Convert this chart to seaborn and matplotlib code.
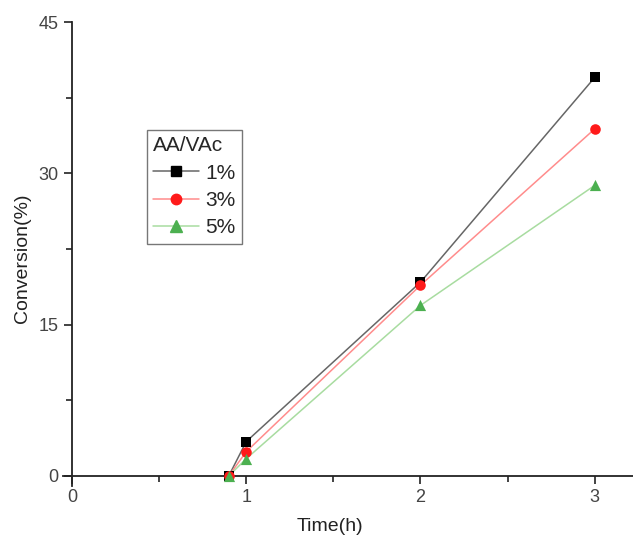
import matplotlib
matplotlib.use("Agg")
import matplotlib.pyplot as plt
from matplotlib.lines import Line2D
from matplotlib.ticker import MultipleLocator
import seaborn as sns
import pandas as pd

time_h = [0.9, 1, 2, 3]
conv_1 = [0.0, 3.4, 19.2, 39.5]
conv_3 = [0.0, 2.4, 18.9, 34.4]
conv_5 = [0.0, 1.7, 16.9, 28.8]
labels = ["1%", "3%", "5%"]
marker_colors = ["#000000", "#ff1a1a", "#4cb050"]
line_colors = ["#666666", "#ff8c8c", "#a8dca0"]
markers = ["s", "o", "^"]
msizes = [50, 58, 65]

sns.set_theme(style="ticks")
plt.rcParams['font.family'] = ['Liberation Sans', 'DejaVu Sans']

fig = plt.figure(figsize=(6.33, 5.41), dpi=100)
ax = fig.add_axes([0.1, 0.1017, 0.9, 0.8576])

df = pd.DataFrame({
    "Time": time_h * 3,
    "Conversion": conv_1 + conv_3 + conv_5,
    "AA/VAc": [labels[0]] * 4 + [labels[1]] * 4 + [labels[2]] * 4,
})

for i, lab in enumerate(labels):
    sub = df[df["AA/VAc"] == lab]
    sns.lineplot(data=sub, x="Time", y="Conversion", ax=ax, color=line_colors[i],
                 linewidth=1.1, legend=False, zorder=2, sort=False)
for i, lab in enumerate(labels):
    sub = df[df["AA/VAc"] == lab]
    sns.scatterplot(data=sub, x="Time", y="Conversion", ax=ax, color=marker_colors[i],
                    marker=markers[i], s=msizes[i], linewidth=0, legend=False, zorder=3)

ax.set_xlim(-0.05, 3.22)
ax.set_ylim(-1.0, 45)
ax.spines['left'].set_position(('data', 0))
ax.spines['bottom'].set_position(('data', 0))
ax.spines['right'].set_visible(False)
ax.spines['top'].set_visible(False)
for s in ['left', 'bottom']:
    ax.spines[s].set_linewidth(1.3)
    ax.spines[s].set_color('#222222')

ax.xaxis.set_major_locator(MultipleLocator(1))
ax.xaxis.set_minor_locator(MultipleLocator(0.5))
ax.yaxis.set_major_locator(MultipleLocator(15))
ax.yaxis.set_minor_locator(MultipleLocator(7.5))
ax.tick_params(axis='both', which='major', direction='out', length=6, width=1.2,
               labelsize=13, labelcolor='#444444', color='#222222')
ax.tick_params(axis='both', which='minor', direction='out', length=4, width=1.2, color='#222222')

ax.set_xlabel("Time(h)", fontsize=14, color='#222222')
ax.set_ylabel("Conversion(%)", fontsize=14, color='#222222')
ax.yaxis.set_label_coords(-0.057, 0.49)
ax.xaxis.set_label_coords(0.468, -0.069)

handles = [Line2D([0], [0], color=line_colors[i], lw=1.1, marker=markers[i],
                  markerfacecolor=marker_colors[i], markeredgecolor=marker_colors[i],
                  markersize=[6.5, 7.5, 8][i]) for i in range(3)]
leg = ax.legend(handles, labels, title="AA/VAc", loc='upper left',
                bbox_to_anchor=(0.147, 0.767), fontsize=15, title_fontsize=15,
                frameon=True, fancybox=False, edgecolor='#555555', handlelength=2.2,
                borderpad=0.3, labelspacing=0.4, handletextpad=0.3, borderaxespad=0)
leg.get_frame().set_linewidth(1.0)
leg._legend_box.align = "left"

fig.savefig("out.png", dpi=100, facecolor='white')
